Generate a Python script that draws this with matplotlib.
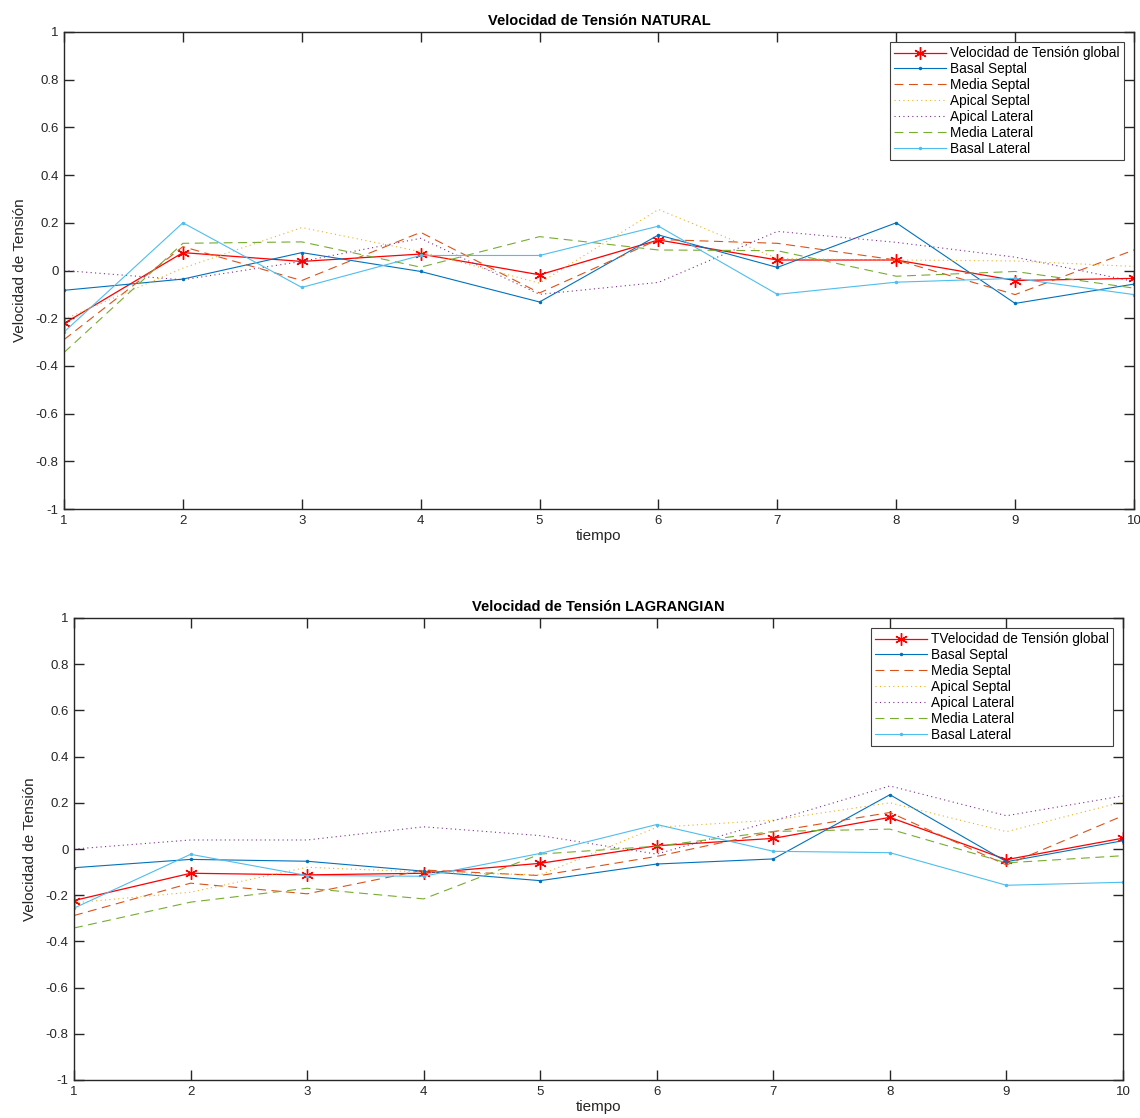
import matplotlib
matplotlib.use("Agg")
import matplotlib.pyplot as plt

plt.rcParams['font.family'] = ['Liberation Sans', 'DejaVu Sans']

tiempo = [1, 2, 3, 4, 5, 6, 7, 8, 9, 10]

# NATURAL
nat_global = [-0.222, 0.075, 0.038, 0.069, -0.018, 0.128, 0.044, 0.044, -0.042, -0.033]
nat_basal_septal = [-0.083, -0.036, 0.075, -0.004, -0.132, 0.149, 0.013, 0.200, -0.138, -0.057]
nat_media_septal = [-0.290, 0.100, -0.042, 0.160, -0.094, 0.130, 0.114, 0.044, -0.101, 0.086]
nat_apical_septal = [-0.205, 0.010, 0.180, 0.079, -0.053, 0.256, 0.050, 0.044, 0.040, 0.017]
nat_apical_lateral = [0.000, -0.039, 0.038, 0.135, -0.100, -0.050, 0.164, 0.118, 0.056, -0.046]
nat_media_lateral = [-0.344, 0.114, 0.120, 0.014, 0.142, 0.086, 0.083, -0.024, -0.004, -0.074]
nat_basal_lateral = [-0.258, 0.200, -0.071, 0.063, 0.063, 0.186, -0.100, -0.049, -0.033, -0.101]

# LAGRANGIAN
lag_global = [-0.223, -0.105, -0.112, -0.105, -0.062, 0.014, 0.046, 0.137, -0.046, 0.047]
lag_basal_septal = [-0.081, -0.045, -0.053, -0.096, -0.137, -0.065, -0.043, 0.235, -0.055, 0.036]
lag_media_septal = [-0.288, -0.148, -0.194, -0.091, -0.115, -0.032, 0.075, 0.158, -0.069, 0.144]
lag_apical_septal = [-0.233, -0.187, -0.079, -0.100, -0.112, 0.094, 0.125, 0.200, 0.075, 0.204]
lag_apical_lateral = [0.000, 0.039, 0.039, 0.096, 0.058, -0.022, 0.122, 0.273, 0.144, 0.230]
lag_media_lateral = [-0.342, -0.230, -0.170, -0.216, -0.022, 0.012, 0.076, 0.086, -0.060, -0.029]
lag_basal_lateral = [-0.256, -0.023, -0.115, -0.118, -0.019, 0.106, -0.010, -0.016, -0.157, -0.144]

segment_names = ["Basal Septal", "Media Septal", "Apical Septal",
                 "Apical Lateral", "Media Lateral", "Basal Lateral"]
yticks = [-1, -0.8, -0.6, -0.4, -0.2, 0, 0.2, 0.4, 0.6, 0.8, 1]
ytick_labels = ["-1", "-0.8", "-0.6", "-0.4", "-0.2", "0", "0.2", "0.4", "0.6", "0.8", "1"]

colors = ["#0072BD", "#D95319", "#EDB120", "#7E2F8E", "#77AC30", "#4DBEEE"]
styles = [dict(ls='-', marker='.', ms=3),
          dict(ls=(0, (8, 5))),
          dict(ls=(0, (1, 3))),
          dict(ls=(0, (1, 3))),
          dict(ls=(0, (8, 5))),
          dict(ls='-', marker='.', ms=3)]

axc = '#262626'

fig = plt.figure(figsize=(11.4, 11.18), dpi=100)


def draw(ax, glob, segs, title, glabel):
    ax.plot(tiempo, glob, color='red', lw=0.9, marker=(6, 2, 0), ms=9, mew=1.0,
            label=glabel)
    for name, vals, c, st in zip(segment_names, segs, colors, styles):
        ax.plot(tiempo, vals, color=c, lw=0.8, label=name, **st)
    ax.set_xlim(1, 10)
    ax.set_ylim(-1, 1)
    ax.set_xticks(tiempo)
    ax.set_yticks(yticks)
    ax.set_yticklabels(ytick_labels)
    ax.tick_params(direction='in', length=7, width=1.0, top=True, right=True,
                   labelsize=9.5, colors=axc, labelcolor=axc, pad=4)
    for s in ax.spines.values():
        s.set_linewidth(1.0)
        s.set_color(axc)
    ax.set_title(title, fontsize=10.5, fontweight='bold', pad=5, color='black')
    ax.set_xlabel("tiempo", fontsize=11, color=axc, labelpad=2)
    ax.set_ylabel("Velocidad de Tensión", fontsize=11, color=axc, labelpad=6)
    leg = ax.legend(loc='upper right', fontsize=9.8, frameon=True, fancybox=False,
                    edgecolor='#404040', framealpha=1, borderpad=0.3,
                    labelspacing=0.14, handlelength=3.8, handletextpad=0.3,
                    borderaxespad=0.75)
    leg.get_frame().set_linewidth(0.8)


ax1 = fig.add_axes([64 / 1140, 1 - 509 / 1118, 1070 / 1140, 477 / 1118])
draw(ax1, nat_global,
     [nat_basal_septal, nat_media_septal, nat_apical_septal,
      nat_apical_lateral, nat_media_lateral, nat_basal_lateral],
     "Velocidad de Tensión NATURAL", "Velocidad de Tensión global")

ax2 = fig.add_axes([74 / 1140, 1 - 1080 / 1118, 1049 / 1140, 462 / 1118])
draw(ax2, lag_global,
     [lag_basal_septal, lag_media_septal, lag_apical_septal,
      lag_apical_lateral, lag_media_lateral, lag_basal_lateral],
     "Velocidad de Tensión LAGRANGIAN", "TVelocidad de Tensión global")

fig.savefig("out.png", dpi=100)
